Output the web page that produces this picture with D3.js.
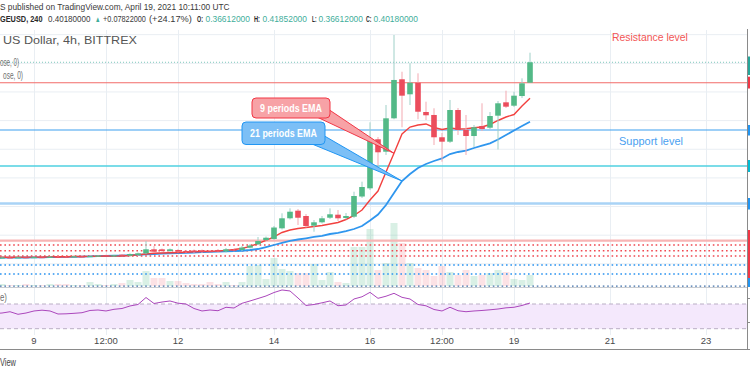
<!DOCTYPE html>
<html><head><meta charset="utf-8">
<script src="https://cdn.jsdelivr.net/npm/d3@7"></script>
<style>
html,body{margin:0;padding:0;background:#fff;overflow:hidden;}
svg{display:block;font-family:"Liberation Sans",Arial,sans-serif;}
</style></head><body>
<svg id="c" width="750" height="375"></svg>
<script>
// ---------------- DATA (DOGEUSD, 4h, BITTREX) ----------------
const firstBarTime = "2021-04-08T04:00:00Z"; // one bar every 4 hours
const opens  = [.0612,.0608,.0614,.0610,.0618,.0612,.0620,.0616,.0624,.0628,.0626,.0632,.0630,.0636,.0652,.0640,.0660,.0642,.0654,.0684,.0754,.0754,.0724,.0742,.0724,.0733,.0736,.0724,.0742,.0716,.0750,.0742,.0782,.0841,.0916,.0934,.1120,.1295,.1428,.1335,.1166,.1225,.1305,.1358,.1300,.1323,.1675,.1818,.2674,.2457,.3040,.3721,.3459,.3661,.3150,.3098,.2709,.2632,.3185,.2836,.2731,.2906,.2876,.3086,.3319,.3260,.3429,.36612];
const highs  = [.0620,.0618,.0622,.0620,.0625,.0624,.0628,.0630,.0634,.0636,.0638,.0640,.0645,.0650,.0660,.0655,.0672,.0684,.0698,.0899,.0812,.0768,.0768,.0756,.0742,.0750,.0750,.0742,.0759,.0777,.0768,.0812,.0846,.0969,.0977,.1161,.1382,.1469,.1457,.1370,.1265,.1335,.1469,.1440,.1387,.1759,.1934,.2970,.2714,.3272,.4494,.3853,.4000,.3825,.3330,.3215,.2784,.3360,.3220,.3098,.2923,.3302,.3150,.3342,.3522,.3504,.3738,.41852];
const lows   = [.0604,.0602,.0606,.0604,.0608,.0606,.0611,.0610,.0614,.0617,.0618,.0620,.0622,.0628,.0638,.0630,.0637,.0631,.0637,.0672,.0698,.0712,.0707,.0698,.0689,.0691,.0689,.0707,.0698,.0698,.0716,.0724,.0768,.0829,.0899,.0916,.1099,.1274,.1178,.1134,.1061,.1204,.1283,.1248,.1274,.1300,.1649,.1789,.2195,.2400,.3023,.2883,.3272,.3023,.3010,.2574,.2283,.2609,.2749,.2400,.2539,.2818,.2853,.2496,.3220,.3237,.3394,.36612];
const closes = [.0608,.0613,.0609,.0616,.0612,.0619,.0614,.0625,.0620,.0622,.0633,.0628,.0637,.0645,.0643,.0650,.0646,.0672,.0684,.0754,.0712,.0724,.0754,.0712,.0702,.0707,.0707,.0720,.0712,.0754,.0736,.0785,.0820,.0899,.0956,.1134,.1295,.1410,.1305,.1161,.1225,.1295,.1365,.1295,.1335,.1684,.1841,.2661,.2447,.3040,.3709,.3435,.3661,.3155,.3093,.2709,.2632,.3185,.2836,.2731,.2883,.2853,.3080,.3302,.3243,.3435,.3651,.4018];
const volumes = [1,2,1,1,2,1,1,2,2,2,1,1,4,2,1,2,3,6,4,15,8,8,5,5,3,2,2,4,2,4,1,4,20,21,7,28,17,15,13,13,22,6,14,4,3,39,39,57,16,23,63,43,23,18,16,10,20,14,11,16,10,11,13,16,14,7,6,11];
const ema9  = [.0613,.0614,.0614,.0616,.0618,.0618,.0620,.0621,.0623,.0625,.0627,.0628,.0630,.0632,.0634,.0635,.0637,.0646,.0658,.0672,.0684,.0689,.0693,.0698,.0703,.0710,.0716,.0719,.0724,.0736,.0750,.0768,.0806,.0855,.0908,.0969,.1047,.1091,.1117,.1134,.1152,.1169,.1195,.1222,.1274,.1344,.1440,.1614,.1771,.2103,.2429,.2766,.2888,.2923,.2941,.2880,.2845,.2871,.2853,.2859,.2876,.2888,.2932,.3002,.3063,.3106,.3255,.3389];
const ema21 = [.0606,.0607,.0607,.0609,.0611,.0613,.0614,.0616,.0618,.0620,.0623,.0627,.0630,.0634,.0637,.0641,.0644,.0651,.0658,.0665,.0672,.0677,.0682,.0688,.0693,.0698,.0703,.0709,.0714,.0719,.0724,.0729,.0742,.0759,.0794,.0829,.0864,.0899,.0925,.0946,.0969,.0990,.1021,.1042,.1073,.1108,.1161,.1257,.1361,.1527,.1736,.1946,.2068,.2173,.2243,.2295,.2339,.2417,.2452,.2478,.2522,.2565,.2604,.2670,.2749,.2827,.2906,.2981];
const rsi   = [54.6,55.4,57.5,53.3,55.4,58.7,60.0,58.7,53.8,54.1,54.9,55.9,59.5,60.3,58.7,61.4,62.7,66.8,69.2,80.5,70.8,73.2,74.9,71.3,70.0,62.7,58.7,60.3,59.1,64.7,63.5,71.1,74.9,78.9,83.0,88.6,92.7,91.1,79.7,67.6,69.2,71.9,74.9,67.2,68.4,78.1,81.7,88.9,79.2,82.6,87.3,80.8,78.1,69.2,67.1,61.1,58.7,64.7,59.1,57.5,58.7,59.5,60.6,61.9,63.8,64.7,67.6,71.6];

const priceGrid = [0.05,0.10,0.15,0.20,0.25,0.30,0.35,0.40,0.45];
const timeTicks = ["2021-04-09T00:00:00Z","2021-04-10T12:00:00Z","2021-04-12T00:00:00Z","2021-04-14T00:00:00Z","2021-04-16T00:00:00Z","2021-04-17T12:00:00Z","2021-04-19T00:00:00Z","2021-04-21T00:00:00Z","2021-04-23T00:00:00Z"];
const timeLabels = ["9","12:00","12","14","16","12:00","19","21","23"];

const solidLevels = [0.36612, 0.2836, 0.2208, 0.1553, 0.0904]; // resistance / support drawings
const redDotLevels = [0.0829, 0.0729, 0.0637];
const blueDotLevels = [0.0480, 0.0323, 0.0113];
const lastPrice = 0.4018;
const rsiBands = [70, 30];

// ---------------- LAYOUT ----------------
const svg = d3.select("#c");
const R = 747, MT = 30, MB = 287, RT = 288, RB = 335;
const times = opens.map((_, i) => d3.utcHour.offset(new Date(firstBarTime), 4 * i));
const x = d3.scaleUtc().domain([new Date("2021-04-08T07:00:00Z"), new Date("2021-04-23T20:30:00Z")]).range([0, R]);
const y = d3.scaleLinear().domain([0, 0.45]).range([292.5, 34.65]);
const yv = d3.scaleLinear().domain([0, d3.max(volumes)]).range([286, 223]);
const yr = d3.scaleLinear().domain([30, 70]).range([328.7, 304]);
const bw = 5.6;

const defs = svg.append("defs");
defs.append("clipPath").attr("id","cm").append("rect").attr("x",0).attr("y",MT).attr("width",R).attr("height",MB-MT);
defs.append("clipPath").attr("id","cr").append("rect").attr("x",0).attr("y",RT).attr("width",R).attr("height",RB-RT);

svg.append("rect").attr("width",750).attr("height",375).attr("fill","#fff");

// grids
const gridC = "#e9eef3";
svg.append("g").selectAll("line").data(timeTicks).join("line")
  .attr("x1", d => Math.round(x(new Date(d))) + 0.5).attr("x2", d => Math.round(x(new Date(d))) + 0.5)
  .attr("y1", MT).attr("y2", RB).attr("stroke", gridC).attr("stroke-width", 1);
svg.append("g").attr("clip-path","url(#cm)").selectAll("line").data(priceGrid).join("line")
  .attr("x1",0).attr("x2",R).attr("y1", d => y(d)).attr("y2", d => y(d)).attr("stroke", gridC);

// RSI pane
const rsiG = svg.append("g");
rsiG.append("rect").attr("x",0).attr("width",R).attr("y",yr(70)).attr("height",yr(30)-yr(70)).attr("fill","#f4e8fc");
rsiG.selectAll("line.b").data(rsiBands).join("line").attr("class","b")
  .attr("x1",0).attr("x2",R).attr("y1",d=>yr(d)).attr("y2",d=>yr(d))
  .attr("stroke","#b9aec4").attr("stroke-dasharray","4,3");
rsiG.append("path").attr("clip-path","url(#cr)")
  .attr("d", d3.line().x((d,i)=>x(times[i])).y(d=>yr(d))(rsi))
  .attr("fill","none").attr("stroke","#ab47bc").attr("stroke-width",1);

// main pane
const main = svg.append("g").attr("clip-path","url(#cm)");
// volume
main.append("g").selectAll("rect").data(volumes).join("rect")
  .attr("x",(d,i)=>x(times[i]) - 3.5).attr("width",7)
  .attr("y",d=>yv(d)).attr("height",d=>286-yv(d))
  .attr("fill",(d,i)=> closes[i] >= opens[i] ? "rgba(83,185,135,0.22)" : "rgba(235,77,92,0.16)");

// horizontal drawings
const solidStyle = [["#f26b68",1.1],["#3d9ff0",1.2],["#4fd0e0",1.4],["#a9d3f6",2.6],["#f7b5b5",2.2]];
main.append("g").selectAll("line").data(solidLevels).join("line")
  .attr("x1",0).attr("x2",R).attr("y1",d=>y(d)).attr("y2",d=>y(d))
  .attr("stroke",(d,i)=>solidStyle[i][0]).attr("stroke-width",(d,i)=>solidStyle[i][1]);
main.append("g").selectAll("line").data(redDotLevels).join("line")
  .attr("x1",0).attr("x2",R).attr("y1",d=>y(d)).attr("y2",d=>y(d))
  .attr("stroke","#f04850").attr("stroke-width",1.3).attr("stroke-dasharray","1.6,2.8");
main.append("g").selectAll("line").data(blueDotLevels).join("line")
  .attr("x1",0).attr("x2",R).attr("y1",d=>y(d)).attr("y2",d=>y(d))
  .attr("stroke",(d,i)=> i===2 ? "#3f6fa8" : "#2a93f0").attr("stroke-width",1.3).attr("stroke-dasharray","1.6,2.8");
main.append("line").attr("x1",0).attr("x2",R).attr("y1",y(lastPrice)).attr("y2",y(lastPrice))
  .attr("stroke","#7fc8bb").attr("stroke-dasharray","1,2");

// EMAs
main.append("path").attr("d", d3.line().x((d,i)=>x(times[i])).y(d=>y(d))(ema21))
  .attr("fill","none").attr("stroke","#2f96ee").attr("stroke-width",1.8);
main.append("path").attr("d", d3.line().x((d,i)=>x(times[i])).y(d=>y(d))(ema9))
  .attr("fill","none").attr("stroke","#f2413f").attr("stroke-width",1.4);

// candles
const cg = main.append("g");
opens.forEach((o,i)=>{
  const up = closes[i] >= o;
  const cx = x(times[i]);
  cg.append("line").attr("x1",cx).attr("x2",cx).attr("y1",y(highs[i])).attr("y2",y(lows[i]))
    .attr("stroke", up ? "#9fd0c8" : "#f3a9b1").attr("stroke-width",1);
  const top = y(Math.max(o, closes[i])), bot = y(Math.min(o, closes[i]));
  cg.append("rect").attr("x",cx-bw/2).attr("width",bw).attr("y",top).attr("height",Math.max(1.2,bot-top))
    .attr("fill", up ? "#53b987" : "#eb4d5c");
});

// text helper: fits a text to a target width by horizontal scaling
function fitText(parent, str, tx, ty, size, fill, w, bold, anchor){
  const t = parent.append("text").attr("font-size",size).attr("fill",fill).text(str);
  if (bold) t.attr("font-weight","bold");
  const w0 = t.node().getComputedTextLength() || w;
  const sx = w / w0;
  let x0 = tx;
  if (anchor === "middle") x0 = tx - w / 2;
  t.attr("transform", `translate(${x0},${ty}) scale(${sx},1)`);
  return t;
}

// callouts
function callout(tip, box, base, fill, stroke, text, tx, ty, tw){
  const g = svg.append("g");
  g.append("path").attr("d", `M${base[0][0]},${base[0][1]}L${tip[0]},${tip[1]}L${base[1][0]},${base[1][1]}Z`)
    .attr("fill", fill).attr("stroke", stroke).attr("stroke-width",1).attr("stroke-linejoin","round");
  g.append("rect").attr("x",box[0]).attr("y",box[1]).attr("width",box[2]).attr("height",box[3]).attr("rx",4)
    .attr("fill", fill).attr("stroke", stroke).attr("stroke-width",1);
  fitText(g, text, tx, ty, 10.5, "#fff", tw, true, "middle");
}
const i9 = 50, i21 = 51;
callout([x(times[i21]), y(ema21[i21])], [242,122,83,22.5], [[312,144],[324.5,136]], "#7cbff6", "#2196f3", "21 periods EMA", 283.5, 136.5, 67);
callout([x(times[i9]), y(ema9[i9])], [252,98,78,20], [[318,117.5],[329.5,110]], "#f7a2a6", "#f23645", "9 periods EMA", 291, 112, 62);

// header texts
fitText(svg, "S published on TradingView.com, April 19, 2021 10:11:00 UTC", 0, 10, 9.5, "#3a3a3a", 230);
const g2 = "#3fae9b", dk = "#3a3a3a", bk = "#2a2a2a";
const runs = [
  ["GEUSD, 240", 0, 42.5, bk, true], ["0.40180000", 48, 42.5, dk], ["▲", 95, 5.5, g2], ["+0.07822000", 103, 43, dk],
  ["(+24.17%)", 149, 43, dk], ["O:", 197, 6, bk, true], ["0.36612000", 205.5, 44.5, g2], ["H:", 254, 6, bk, true],
  ["0.41852000", 262.5, 44.5, g2], ["L:", 312, 4.5, bk, true], ["0.36612000", 318.5, 44.5, g2], ["C:", 366, 5.5, bk, true],
  ["0.40180000", 373.5, 44.5, g2]
];
runs.forEach(r => fitText(svg, r[0], r[1], 22, r[0] === "▲" ? 8 : 9.8, r[3], r[2], r[4]));

fitText(svg, "US Dollar, 4h, BITTREX", 3, 43.5, 10, "#555", 134);
fitText(svg, "ose, 0)", 0, 65.5, 10, "#6f6f6f", 19);
fitText(svg, "ose, 0)", 3, 78.5, 10, "#6f6f6f", 20);
fitText(svg, "Resistance level", 612, 40.5, 10.5, "#f25555", 76);
fitText(svg, "Support level", 619, 144.5, 10.5, "#4a9ff0", 64);
fitText(svg, "e)", 0, 301, 10, "#6f6f6f", 7);
fitText(svg, "View", 0, 366, 10, "#444", 16);
svg.append("g").selectAll("text").data(timeTicks).join("text")
  .attr("x", d => x(new Date(d))).attr("y", 344).attr("text-anchor","middle")
  .attr("font-size", 9.5).attr("fill", "#4a4a4a").text((d,i)=>timeLabels[i]);

// frame
svg.append("line").attr("x1",0).attr("x2",R).attr("y1",287.5).attr("y2",287.5).attr("stroke","#c9ccd1");
svg.append("line").attr("x1",0).attr("x2",750).attr("y1",349.5).attr("y2",349.5).attr("stroke","#8a8a8a");
svg.append("line").attr("x1",R+0.5).attr("x2",R+0.5).attr("y1",29).attr("y2",350).attr("stroke","#8a8a8a");
// price-axis label slivers at the right edge
const slivers = [[56.5,75,"#26a69a"],[76.7,88.5,"#f23645"],[125,135.5,"#2196f3"],[160,172,"#00bcd4"],[198,209.5,"#2196f3"],[230,278,"#f23645"],[278,287,"#2196f3"]];
svg.append("g").selectAll("rect").data(slivers).join("rect")
  .attr("x",748).attr("width",2).attr("y",d=>d[0]).attr("height",d=>d[1]-d[0]).attr("fill",d=>d[2]);
svg.append("g").selectAll("line").data([298,322]).join("line")
  .attr("x1",747).attr("x2",750).attr("y1",d=>d+0.5).attr("y2",d=>d+0.5).attr("stroke","#8a8a8a");
</script>
</body></html>
